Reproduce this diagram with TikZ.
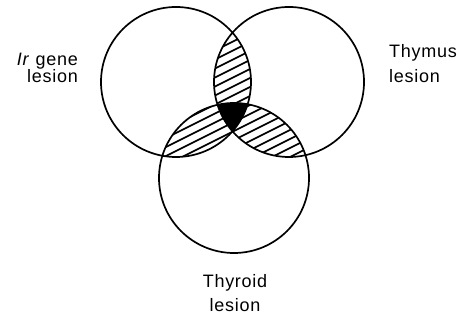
\documentclass[tikz,border=0pt]{standalone}
\usepackage{fontspec}
\setmainfont{Liberation Sans}[LetterSpace=4]
\tikzset{
  ring/.style={line width=1.7pt},
  hatchline/.style={line width=1.6pt},
  lbl/.style={inner sep=0pt,font=\fontsize{18}{#1}\selectfont},
}
\begin{document}
\begin{tikzpicture}[x=1pt,y=1pt]
\useasboundingbox (0,0) rectangle (457,323);
\coordinate (ir) at (176,241);
\coordinate (thy) at (289,241);
\coordinate (thr) at (234,145);
% hatched overlaps
\foreach \a/\b in {ir/thy,ir/thr,thy/thr}{
  \begin{scope}
    \clip (\a) circle[radius=75];
    \clip (\b) circle[radius=75];
    \foreach \k in {-240,-231,...,330}
      \draw[hatchline] (0,\k) -- (457,\k+228.5);
  \end{scope}
}
% triple overlap
\begin{scope}
  \clip (ir) circle[radius=75];
  \clip (thy) circle[radius=75];
  \clip (thr) circle[radius=75];
  \fill (0,0) rectangle (457,323);
\end{scope}
\draw[ring] (ir) circle[radius=75];
\draw[ring] (thy) circle[radius=75];
\draw[ring] (thr) circle[radius=75];
% labels
\node[lbl=16,align=right,anchor=base east] (irlbl) at (78,240) {\textit{Ir} gene\\lesion};
\node[lbl=25,align=left,anchor=base west] (thylbl) at (389,240) {Thymus\\lesion};
\node[lbl=24,align=center,anchor=base] (thrlbl) at (235,11.5) {Thyroid\\lesion};
\end{tikzpicture}
\end{document}
